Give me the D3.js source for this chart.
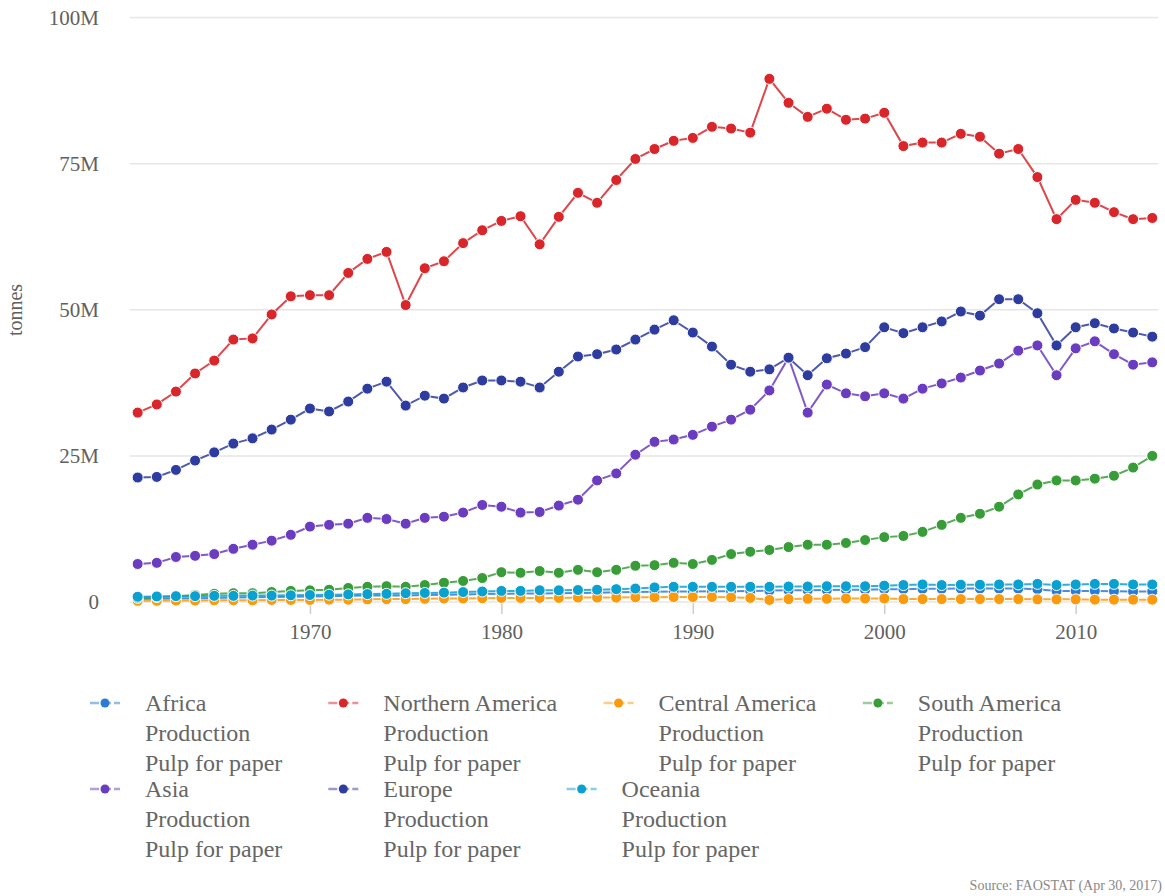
<!DOCTYPE html>
<html>
<head>
<meta charset="utf-8">
<script src="https://cdn.jsdelivr.net/npm/d3@7"></script>
<style>
  html, body { margin: 0; padding: 0; background: #fff; }
  svg { display: block; }
  text { font-family: "Liberation Serif", "Times New Roman", serif; }
</style>
</head>
<body>
<svg id="chart" width="1165" height="896"></svg>
<script>
const years = d3.range(1961, 2015);
const yTicks = [0, 25e6, 50e6, 75e6, 100e6];
const yTickLabels = ["0", "25M", "50M", "75M", "100M"];
const xTicks = [1970, 1980, 1990, 2000, 2010];
const seriesNames = ["Africa", "Northern America", "Central America", "South America", "Asia", "Europe", "Oceania"];
const seriesColors = ["#2b7bd6", "#d8262b", "#fb9a0d", "#389c38", "#6a3cbf", "#2d3c9e", "#0aa0d0"];
const legendSubLines = ["Production", "Pulp for paper"];

// values in million tonnes, 1961..2014
const africa = [0.5,0.55,0.6,0.65,0.7,0.75,0.8,0.85,0.9,0.95,1.0,1.05,1.1,1.15,1.1,1.2,1.25,1.3,1.35,1.4,1.45,1.45,1.5,1.55,1.6,1.65,1.7,1.75,1.8,1.8,1.85,1.85,1.9,1.95,2.0,2.0,2.05,2.1,2.1,2.2,2.2,2.25,2.25,2.3,2.3,2.3,2.3,2.2,1.9,1.9,1.9,1.85,1.8,1.8];
const northernAmerica = [32.4,33.8,36.0,39.1,41.3,44.9,45.1,49.2,52.3,52.5,52.5,56.3,58.7,59.9,50.8,57.1,58.3,61.4,63.6,65.2,66.0,61.2,65.9,70.0,68.3,72.2,75.8,77.5,78.9,79.4,81.3,81.0,80.3,89.5,85.4,83.0,84.4,82.5,82.7,83.7,78.0,78.6,78.6,80.1,79.6,76.7,77.5,72.7,65.5,68.8,68.3,66.7,65.5,65.7];
const centralAmerica = [0.2,0.2,0.25,0.25,0.3,0.3,0.3,0.35,0.35,0.35,0.4,0.4,0.45,0.5,0.5,0.55,0.6,0.6,0.65,0.7,0.7,0.7,0.7,0.75,0.75,0.75,0.8,0.8,0.85,0.85,0.85,0.8,0.7,0.35,0.5,0.55,0.55,0.6,0.6,0.6,0.5,0.5,0.5,0.5,0.5,0.5,0.5,0.45,0.45,0.45,0.4,0.4,0.4,0.4];
const southAmerica = [0.7,0.85,1.0,1.2,1.4,1.5,1.5,1.7,1.9,2.0,2.1,2.4,2.6,2.7,2.6,2.9,3.3,3.6,4.1,5.1,5.0,5.3,5.0,5.5,5.1,5.5,6.2,6.3,6.7,6.5,7.2,8.2,8.6,8.9,9.4,9.8,9.8,10.1,10.6,11.1,11.3,12.0,13.2,14.4,15.1,16.3,18.4,20.1,20.8,20.8,21.1,21.6,23.0,25.0];
const asia = [6.5,6.7,7.7,7.9,8.2,9.1,9.8,10.5,11.5,12.9,13.2,13.4,14.4,14.2,13.4,14.4,14.6,15.3,16.6,16.3,15.3,15.4,16.5,17.5,20.8,22.0,25.2,27.4,27.8,28.6,30.0,31.2,32.9,36.2,41.8,32.4,37.2,35.7,35.2,35.7,34.8,36.5,37.4,38.4,39.6,40.8,43.0,43.9,38.8,43.4,44.6,42.4,40.6,41.0];
const europe = [21.3,21.4,22.6,24.2,25.6,27.1,28.0,29.5,31.2,33.1,32.6,34.3,36.5,37.7,33.6,35.3,34.8,36.7,37.9,37.9,37.7,36.7,39.4,42.0,42.4,43.2,44.9,46.6,48.2,46.1,43.7,40.6,39.4,39.8,41.8,38.8,41.7,42.5,43.6,47.0,46.0,47.0,48.0,49.7,49.0,51.8,51.8,49.4,43.9,47.0,47.7,46.8,46.1,45.4];
const oceania = [0.9,0.95,1.0,1.0,1.05,1.05,1.1,1.1,1.15,1.2,1.25,1.3,1.35,1.4,1.5,1.55,1.6,1.7,1.8,1.9,1.9,2.0,2.0,2.05,2.1,2.2,2.3,2.5,2.6,2.6,2.6,2.6,2.6,2.6,2.65,2.65,2.7,2.7,2.7,2.8,2.9,3.0,2.9,2.95,2.95,3.0,3.0,3.1,2.9,3.0,3.1,3.1,3.0,3.0];

const seriesValues = [africa, northernAmerica, centralAmerica, southAmerica, asia, europe, oceania];

const svg = d3.select("#chart");
const x = d3.scaleLinear().domain([1960.6, 2014.3]).range([130, 1158]);
const y = d3.scaleLinear().domain([0, 100e6]).range([602, 17.5]);

// gridlines
svg.append("g").selectAll("line").data(yTicks).join("line")
  .attr("x1", 130).attr("x2", 1158)
  .attr("y1", d => y(d)).attr("y2", d => y(d))
  .attr("stroke", "#e6e6e6").attr("stroke-width", 1.5);

// y labels
svg.append("g").selectAll("text").data(yTicks).join("text")
  .attr("x", 99).attr("y", d => y(d)).attr("dy", "0.35em")
  .attr("text-anchor", "end").attr("font-size", 21).attr("fill", "#606060")
  .text((d, i) => yTickLabels[i]);

// y title
svg.append("text")
  .attr("transform", "translate(22,310) rotate(-90)")
  .attr("text-anchor", "middle").attr("font-size", 20).attr("fill", "#606060")
  .text("tonnes");

// x axis ticks
const xAxis = d3.axisBottom(x).tickValues(xTicks).tickFormat(d3.format("d")).tickSize(12).tickPadding(10);
const gx = svg.append("g").attr("transform", `translate(0,${y(0)})`).call(xAxis);
gx.select(".domain").remove();
gx.selectAll(".tick line").attr("stroke", "#cccccc").attr("stroke-width", 1.5);
gx.selectAll(".tick text").attr("font-size", 21).attr("fill", "#606060")
  .attr("font-family", "'Liberation Serif', 'Times New Roman', serif");

// series
const line = d3.line().x((d, i) => x(years[i])).y(d => y(d * 1e6));
seriesValues.forEach((vals, si) => {
  const g = svg.append("g");
  g.append("path").datum(vals).attr("d", line)
    .attr("fill", "none").attr("stroke", seriesColors[si])
    .attr("stroke-width", 2).attr("stroke-opacity", 0.85);
  g.selectAll("circle").data(vals).join("circle")
    .attr("cx", (d, i) => x(years[i])).attr("cy", d => y(d * 1e6))
    .attr("r", 5.5).attr("fill", seriesColors[si])
    .attr("stroke", "#fff").attr("stroke-width", 1);
});

// legend (flow layout)
const legend = svg.append("g");
let lx = 88, ly = 703;
const rowHeight = 86, rightLimit = 1160;
seriesNames.forEach((name, si) => {
  const item = legend.append("g");
  const t = item.append("text").attr("x", 57).attr("y", 0).attr("font-size", 24).attr("fill", "#666");
  [name].concat(legendSubLines).forEach((s, k) => {
    t.append("tspan").attr("x", 57).attr("y", k * 30).attr("dy", "0.35em").text(s);
  });
  const w = t.node().getBBox().width;
  const itemW = 57 + w;
  if (lx + itemW > rightLimit) { lx = 88; ly += rowHeight; }
  item.attr("transform", `translate(${lx},${ly})`);
  item.append("line").attr("x1", 2).attr("x2", 32).attr("y1", 0).attr("y2", 0)
    .attr("stroke", seriesColors[si]).attr("stroke-width", 2.5).attr("stroke-opacity", 0.5)
    .attr("stroke-dasharray", "9,3");
  item.append("circle").attr("cx", 17).attr("cy", 0).attr("r", 4.5).attr("fill", seriesColors[si]);
  lx += itemW + 44;
});

// source
svg.append("text").attr("x", 1162).attr("y", 890).attr("text-anchor", "end")
  .attr("font-size", 14).attr("fill", "#888").text("Source: FAOSTAT (Apr 30, 2017)");
</script>
</body>
</html>
